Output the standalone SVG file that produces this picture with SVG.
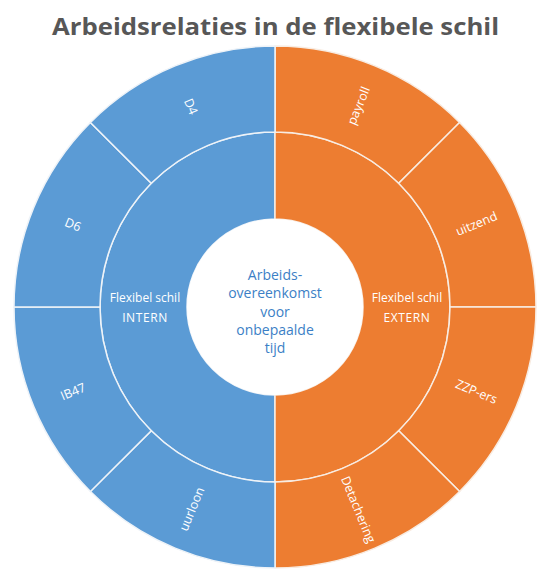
<svg xmlns="http://www.w3.org/2000/svg" width="541" height="572" viewBox="0 0 541 572">
<style>
.blue{fill:#5B9BD5;stroke:#EEF3F8;stroke-width:1.5}
.orange{fill:#ED7D31;stroke:#F8ECE2;stroke-width:1.5}
.lbl{font-family:"Open Sans","Liberation Sans",sans-serif;font-size:12.5px;fill:#FFFFFF;text-anchor:middle;dominant-baseline:central}
.inner{font-family:"Open Sans","Liberation Sans",sans-serif;font-size:12px;fill:#FFFFFF;text-anchor:middle}
.center{font-family:"Open Sans","Liberation Sans",sans-serif;font-size:14px;fill:#3C7FC6;text-anchor:middle}
.title{font-family:"Open Sans","Liberation Sans",sans-serif;font-weight:700;font-size:24px;fill:#575757}
</style>
<rect width="541" height="572" fill="#FFFFFF"/>
<text class="title" x="52" y="35" textLength="447" lengthAdjust="spacingAndGlyphs">Arbeidsrelaties in de flexibele schil</text>

<g id="intern">
<path class="blue" d="M275 482 A175 175 0 0 1 275 132 L275 219 A88 88 0 0 0 275 395 Z"/>
<text class="inner" x="145" y="302">Flexibel schil</text>
<text class="inner" x="145" y="322" letter-spacing="0.6">INTERN</text>
</g>
<g id="extern">
<path class="orange" d="M275 132 A175 175 0 0 1 275 482 L275 395 A88 88 0 0 0 275 219 Z"/>
<text class="inner" x="407" y="302">Flexibel schil</text>
<text class="inner" x="407" y="322" letter-spacing="0.6">EXTERN</text>
</g>

<g id="payroll">
<path class="orange" d="M275 46 A261 261 0 0 1 459.56 122.44 L398.74 183.26 A175 175 0 0 0 275 132 Z"/>
<text class="lbl" transform="translate(358.4 105.6) rotate(-67.5)">payroll</text>
</g>
<g id="uitzend">
<path class="orange" d="M459.56 122.44 A261 261 0 0 1 536 307 L450 307 A175 175 0 0 0 398.74 183.26 Z"/>
<text class="lbl" transform="translate(476.4 223.6) rotate(-22.5)">uitzend</text>
</g>
<g id="zzp">
<path class="orange" d="M536 307 A261 261 0 0 1 459.56 491.56 L398.74 430.74 A175 175 0 0 0 450 307 Z"/>
<text class="lbl" transform="translate(476.4 391.5) rotate(22.5)">ZZP-ers</text>
</g>
<g id="detachering">
<path class="orange" d="M459.56 491.56 A261 261 0 0 1 275 568 L275 482 A175 175 0 0 0 398.74 430.74 Z"/>
<text class="lbl" transform="translate(358.4 509.4) rotate(67.5)">Detachering</text>
</g>

<g id="uurloon">
<path class="blue" d="M275 568 A261 261 0 0 1 90.44 491.56 L151.26 430.74 A175 175 0 0 0 275 482 Z"/>
<text class="lbl" transform="translate(191.6 509) rotate(-67.5)">uurloon</text>
</g>
<g id="ib47">
<path class="blue" d="M90.44 491.56 A261 261 0 0 1 14 307 L100 307 A175 175 0 0 0 151.26 430.74 Z"/>
<text class="lbl" transform="translate(73 391.5) rotate(-22.5)">IB47</text>
</g>
<g id="d6">
<path class="blue" d="M14 307 A261 261 0 0 1 90.44 122.44 L151.26 183.26 A175 175 0 0 0 100 307 Z"/>
<text class="lbl" transform="translate(73 224.5) rotate(22.5)">D6</text>
</g>
<g id="d4">
<path class="blue" d="M90.44 122.44 A261 261 0 0 1 275 46 L275 132 A175 175 0 0 0 151.26 183.26 Z"/>
<text class="lbl" transform="translate(191 106.5) rotate(67.5)">D4</text>
</g>

<g id="kern">
<circle cx="275" cy="307" r="88" fill="#FFFFFF"/>
<text class="center" x="275" y="280">Arbeids-</text>
<text class="center" x="275" y="298">overeenkomst</text>
<text class="center" x="275" y="317">voor</text>
<text class="center" x="275" y="335">onbepaalde</text>
<text class="center" x="275" y="353">tijd</text>
</g>
<g id="connectors"></g>
</svg>
